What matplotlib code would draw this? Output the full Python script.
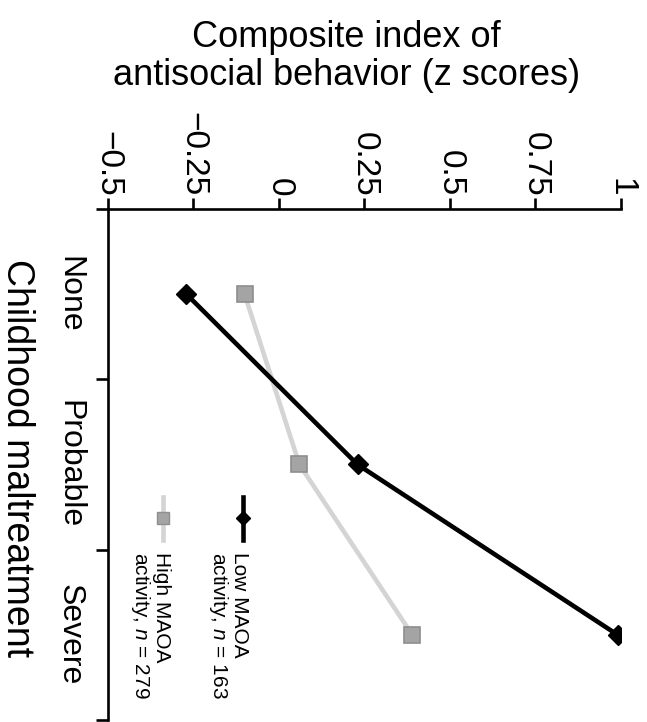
import numpy as np
import matplotlib.pyplot as plt

plt.rcParams['font.family'] = ['Liberation Sans', 'DejaVu Sans']
plt.rcParams['mathtext.fontset'] = 'custom'
plt.rcParams['mathtext.rm'] = 'Liberation Sans'
plt.rcParams['mathtext.it'] = 'Liberation Sans:italic'

# Data
categories = ['None', 'Probable', 'Severe']
low_maoa = [-0.27, 0.23, 0.99]    # low MAOA activity, n = 163
high_maoa = [-0.10, 0.06, 0.39]   # high MAOA activity, n = 279
z_ticks = [-0.5, -0.25, 0, 0.25, 0.5, 0.75, 1]
z_labels = ['\u22120.5', '\u22120.25', '0', '0.25', '0.5', '0.75', '1']

fig = plt.figure(figsize=(6.47, 7.22), dpi=100)
ax = fig.add_axes([0.1665, 0.0028, 0.7933, 0.7077])

pos = np.arange(1, len(categories) + 1)
ax.plot(high_maoa, pos, color='#d4d4d4', lw=3.3, marker='s', ms=12,
        mfc='#a4a4a4', mec='#8e8e8e', mew=1.2, zorder=2)
ax.plot(low_maoa, pos, color='black', lw=3.3, marker='D', ms=10.5, zorder=3)

ax.set_xlim(-0.5, 1)
ax.set_ylim(3.5, 0.5)

# z-score axis along the top, labels turned
ax.xaxis.tick_top()
ax.set_xticks(z_ticks)
ax.set_xticklabels(z_labels, rotation=-90)
ax.tick_params(axis='x', direction='out', length=8, width=1.9, pad=1, labelsize=24)

# category axis: boundary ticks, labels in between
ax.set_yticks([0.5, 1.5, 2.5, 3.5])
ax.set_yticklabels([])
ax.set_yticks(pos, minor=True)
ax.set_yticklabels(categories, minor=True, rotation=-90, fontsize=23, va='center')
ax.tick_params(axis='y', which='major', direction='out', length=9, width=1.9)
ax.tick_params(axis='y', which='minor', length=0, pad=16.5)

for s in ['right', 'bottom']:
    ax.spines[s].set_visible(False)
for s in ['top', 'left']:
    ax.spines[s].set_linewidth(1.9)

# legend drawn by hand, turned like the rest
ax.plot([0.2636, 0.2636], [0.436, 0.352], transform=ax.transAxes, color='black', lw=3.3, clip_on=False)
ax.plot([0.2636], [0.395], transform=ax.transAxes, color='black', marker='D', ms=7.5, clip_on=False)
ax.text(0.2347, 0.329, 'Low MAOA\nactivity, $n$ = 163', transform=ax.transAxes,
        rotation=-90, ha='center', va='top', multialignment='left', fontsize=15, linespacing=1.0)
ax.plot([0.1077, 0.1077], [0.436, 0.352], transform=ax.transAxes, color='#d4d4d4', lw=3.3, clip_on=False)
ax.plot([0.1077], [0.395], transform=ax.transAxes, color='#a4a4a4', marker='s', ms=9,
        mec='#8e8e8e', mew=1, clip_on=False)
ax.text(0.0825, 0.329, 'High MAOA\nactivity, $n$ = 279', transform=ax.transAxes,
        rotation=-90, ha='center', va='top', multialignment='left', fontsize=15, linespacing=1.0)

fig.text(0.535, 0.972, 'Composite index of\nantisocial behavior (z scores)',
         ha='center', va='top', fontsize=26, linespacing=1.1)
fig.text(17 / 647, 1 - 458 / 722, 'Childhood maltreatment', rotation=-90,
         ha='center', va='center', fontsize=27)

fig.savefig('out.png', dpi=100)
